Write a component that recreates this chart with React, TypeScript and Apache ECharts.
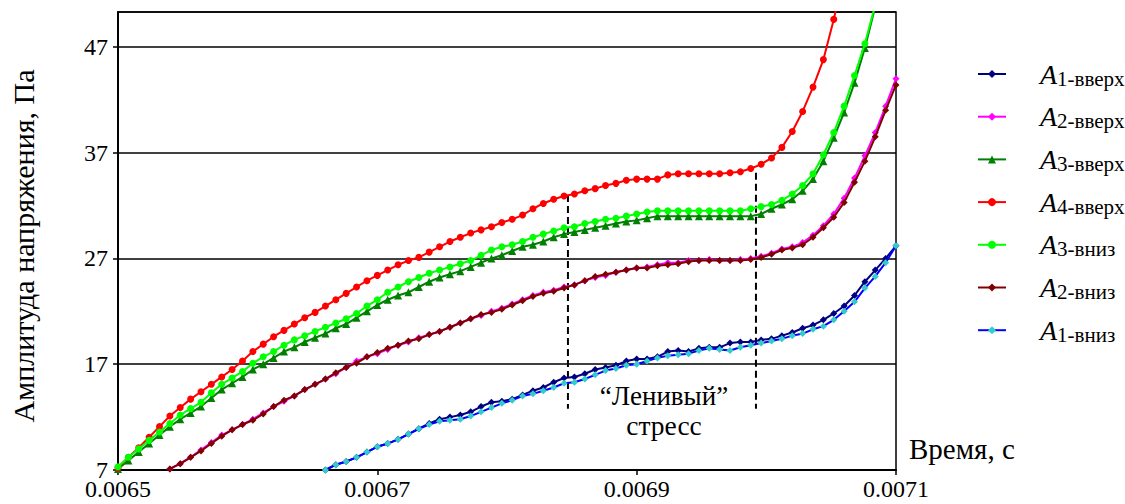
import React, { useEffect, useRef } from "react";
import * as echarts from "echarts";

// sample times, s
const times = [
  0.0065, 0.006508, 0.006516, 0.006524, 0.006532, 0.00654, 0.006548, 0.006556, 0.006564, 0.006572,
  0.00658, 0.006588, 0.006596, 0.006604, 0.006612, 0.00662, 0.006628, 0.006636, 0.006644, 0.006652,
  0.00666, 0.006668, 0.006676, 0.006684, 0.006692, 0.0067, 0.006708, 0.006716, 0.006724, 0.006732,
  0.00674, 0.006748, 0.006756, 0.006764, 0.006772, 0.00678, 0.006788, 0.006796, 0.006804, 0.006812,
  0.00682, 0.006828, 0.006836, 0.006844, 0.006852, 0.00686, 0.006868, 0.006876, 0.006884, 0.006892,
  0.0069, 0.006908, 0.006916, 0.006924, 0.006932, 0.00694, 0.006948, 0.006956, 0.006964, 0.006972,
  0.00698, 0.006988, 0.006996, 0.007004, 0.007012, 0.00702, 0.007028, 0.007036, 0.007044, 0.007052,
  0.00706, 0.007068, 0.007076, 0.007084, 0.007092, 0.0071,
];

const N = null;

const a1Up = [
  N, N, N, N, N, N, N, N, N, N,
  N, N, N, N, N, N, N, N, N, N,
  7.0, 7.5, 7.8, 8.2, 8.7, 9.2, 9.5, 9.9, 10.4, 10.9,
  11.4, 11.8, 12.0, 12.2, 12.5, 13.0, 13.4, 13.5, 13.7, 14.1,
  14.5, 14.8, 15.3, 15.7, 15.8, 16.1, 16.5, 16.7, 16.9, 17.3,
  17.5, 17.5, 17.7, 18.2, 18.3, 18.2, 18.5, 18.6, 18.6, 19.0,
  19.1, 19.1, 19.3, 19.4, 19.7, 20.0, 20.4, 20.7, 21.2, 21.8,
  22.5, 23.5, 24.8, 25.9, 27.0, 28.2,
];

const a2Up = [
  N, N, N, N, N, 7.1, 7.6, 8.2, 8.9, 9.6,
  10.3, 10.8, 11.3, 11.8, 12.4, 13.0, 13.5, 14.0, 14.6, 15.1,
  15.6, 16.1, 16.7, 17.3, 17.7, 18.0, 18.4, 18.8, 19.1, 19.5,
  19.8, 20.1, 20.5, 20.9, 21.3, 21.6, 22.0, 22.3, 22.7, 23.1,
  23.5, 23.8, 24.0, 24.3, 24.5, 24.9, 25.2, 25.4, 25.7, 25.9,
  26.1, 26.2, 26.4, 26.6, 26.6, 26.8, 26.8, 26.9, 26.8, 26.8,
  26.9, 27.0, 27.2, 27.5, 27.9, 28.1, 28.5, 29.2, 30.1, 31.2,
  32.7, 34.6, 36.7, 38.9, 41.4, 44.0,
];

const a3Up = [
  7.1, 7.9, 8.7, 9.5, 10.3, 11.1, 11.8, 12.4, 13.0, 13.8,
  14.6, 15.2, 15.8, 16.5, 17.0, 17.6, 18.2, 18.6, 19.1, 19.5,
  19.9, 20.4, 20.8, 21.4, 22.0, 22.6, 23.1, 23.5, 23.8, 24.3,
  24.8, 25.2, 25.5, 25.8, 26.2, 26.6, 27.0, 27.3, 27.7, 28.1,
  28.3, 28.6, 29.0, 29.3, 29.5, 29.7, 29.9, 30.1, 30.3, 30.5,
  30.6, 30.8, 31.0, 31.0, 31.0, 31.0, 31.0, 31.0, 31.0, 31.0,
  31.0, 31.0, 31.2, 31.7, 32.1, 32.6, 33.4, 34.5, 36.2, 38.4,
  40.8, 43.6, 46.9, 50.8, N, N,
];

const a4Up = [
  7.2, 8.2, 9.1, 10.1, 11.1, 12.1, 12.9, 13.7, 14.4, 15.1,
  15.8, 16.5, 17.3, 18.2, 18.9, 19.6, 20.2, 20.8, 21.4, 21.9,
  22.5, 23.1, 23.7, 24.3, 24.9, 25.4, 25.9, 26.4, 26.8, 27.1,
  27.6, 28.1, 28.6, 29.0, 29.4, 29.7, 30.0, 30.4, 30.7, 31.1,
  31.7, 32.2, 32.6, 32.9, 33.1, 33.4, 33.6, 33.9, 34.1, 34.4,
  34.5, 34.5, 34.5, 34.9, 35.0, 35.0, 35.0, 35.0, 35.0, 35.1,
  35.2, 35.5, 35.9, 36.5, 37.5, 39.0, 40.9, 43.2, 45.8, 49.6,
  54.0, N, N, N, N, N,
];

const a3Down = [
  7.3, 8.2, 9.0, 9.8, 10.6, 11.4, 12.2, 12.8, 13.4, 14.3,
  15.1, 15.7, 16.3, 17.1, 17.7, 18.2, 18.8, 19.3, 19.7, 20.1,
  20.5, 20.9, 21.3, 21.8, 22.5, 23.1, 23.8, 24.3, 24.8, 25.2,
  25.6, 25.9, 26.2, 26.5, 26.8, 27.3, 27.8, 28.1, 28.3, 28.6,
  29.0, 29.3, 29.6, 29.9, 30.0, 30.3, 30.5, 30.7, 30.8, 31.0,
  31.2, 31.4, 31.5, 31.5, 31.5, 31.5, 31.5, 31.5, 31.5, 31.5,
  31.5, 31.7, 31.9, 32.1, 32.5, 33.1, 33.9, 35.0, 36.8, 38.9,
  41.4, 44.3, 47.3, 51.0, N, N,
];

const a2Down = [
  N, N, N, N, N, 7.1, 7.6, 8.2, 8.8, 9.5,
  10.2, 10.8, 11.3, 11.7, 12.3, 13.0, 13.6, 14.0, 14.6, 15.1,
  15.6, 16.2, 16.7, 17.1, 17.7, 18.1, 18.5, 18.8, 19.2, 19.4,
  19.8, 20.1, 20.5, 20.9, 21.3, 21.7, 21.9, 22.2, 22.6, 23.0,
  23.4, 23.7, 23.9, 24.2, 24.5, 24.9, 25.3, 25.5, 25.7, 25.9,
  26.1, 26.1, 26.3, 26.4, 26.5, 26.7, 26.8, 26.8, 26.8, 26.8,
  26.8, 26.9, 27.1, 27.4, 27.8, 28.0, 28.3, 29.0, 29.9, 30.9,
  32.3, 34.2, 36.2, 38.5, 41.0, 43.4,
];

const a1Down = [
  N, N, N, N, N, N, N, N, N, N,
  N, N, N, N, N, N, N, N, N, N,
  7.0, 7.5, 7.8, 8.2, 8.7, 9.2, 9.5, 9.9, 10.4, 10.9,
  11.3, 11.6, 11.7, 11.8, 12.1, 12.5, 12.9, 13.3, 13.6, 14.0,
  14.2, 14.5, 14.8, 15.2, 15.3, 15.6, 16.0, 16.4, 16.6, 16.9,
  17.0, 17.3, 17.6, 17.8, 17.9, 18.0, 18.3, 18.5, 18.4, 18.3,
  18.6, 18.8, 19.0, 19.2, 19.4, 19.7, 19.9, 20.3, 20.6, 21.2,
  22.0, 22.9, 24.2, 25.3, 26.6, 28.2,
];

// "lazy stress" boundaries: [time, top value, bottom value]
const boundaries = [
  [0.006847, 33.0, 12.8],
  [0.006992, 35.1, 12.8],
];

const seriesNames = ["A1-вверх", "A2-вверх", "A3-вверх", "A4-вверх", "A3-вниз", "A2-вниз", "A1-вниз"];
const seriesValues = [a1Up, a2Up, a3Up, a4Up, a3Down, a2Down, a1Down];
const lineColors = ["#000080", "#ff00ff", "#007f00", "#ff0000", "#00ff00", "#800000", "#0000ff"];
const markerColors = ["#000080", "#ff00ff", "#007f00", "#ff0000", "#00ff00", "#800000", "#33cccc"];
const markerShapes = ["diamond", "diamond", "triangle", "circle", "circle", "diamond", "diamond"];

const yTicks = { min: 7, max: 50.3, interval: 10 };
const xTicks = { min: 0.0065, max: 0.0071, interval: 0.0002 };

const FONT = "Liberation Serif";

export default function App() {
  const ref = useRef<HTMLDivElement>(null);
  useEffect(() => {
    const chart = echarts.init(ref.current as HTMLDivElement, null, { renderer: "svg" });
    const series: any[] = seriesNames.map((name, k) => ({
      name,
      type: "line",
      data: times.map((t, i) => [t, seriesValues[k][i]]),
      symbol: markerShapes[k],
      symbolSize: markerShapes[k] === "triangle" ? 8 : 7,
      showSymbol: true,
      lineStyle: { color: lineColors[k], width: 2 },
      itemStyle: { color: markerColors[k] },
      clip: true,
      z: 3 + k,
    }));
    boundaries.forEach((b, j) => {
      series.push({
        name: "boundary" + j,
        type: "line",
        data: [
          [b[0], b[1]],
          [b[0], b[2]],
        ],
        symbol: "none",
        silent: true,
        lineStyle: { color: "#000", width: 2, type: [7, 4] },
        z: 2,
      });
    });

    const txt = (text: string, x: number, y: number, size: number, align: string, rotation = 0) => ({
      type: "text",
      x,
      y,
      rotation,
      style: { text, fontSize: size, fontFamily: FONT, fill: "#000", align, verticalAlign: "middle" },
    });

    chart.setOption({
      animation: false,
      backgroundColor: "#fff",
      grid: {
        left: 118,
        right: 229,
        top: 12,
        bottom: 34,
        show: true,
        borderColor: "#000",
        borderWidth: 1.5,
      },
      xAxis: {
        type: "value",
        min: xTicks.min,
        max: xTicks.max,
        interval: xTicks.interval,
        axisLine: { lineStyle: { color: "#000", width: 2 } },
        axisTick: { show: true, length: 5, lineStyle: { color: "#000", width: 1.5 } },
        axisLabel: {
          color: "#000",
          fontSize: 24,
          fontFamily: FONT,
          margin: 7,
          formatter: (v: number) => v.toFixed(4),
        },
        splitLine: { show: false },
      },
      yAxis: {
        type: "value",
        min: yTicks.min,
        max: yTicks.max,
        interval: yTicks.interval,
        axisLine: { show: true, lineStyle: { color: "#000", width: 2 } },
        axisTick: { show: true, length: 5, lineStyle: { color: "#000", width: 1.5 } },
        axisLabel: {
          color: "#000",
          fontSize: 24,
          fontFamily: FONT,
          margin: 10,
          showMaxLabel: false,
        },
        splitLine: { show: true, lineStyle: { color: "#000", width: 1.5 } },
      },
      legend: {
        orient: "vertical",
        left: 972,
        top: 55,
        itemWidth: 28,
        itemHeight: 10,
        itemGap: 13.7,
        selectedMode: false,
        data: seriesNames,
        formatter: (n: string) => `{sp|}{a|A}{s|${n.slice(1)}}`,
        textStyle: {
          fontFamily: FONT,
          rich: {
            sp: { width: 29, lineHeight: 30 },
            a: {
              fontSize: 28,
              fontStyle: "italic",
              fontFamily: FONT,
              color: "#000",
              lineHeight: 30,
              verticalAlign: "middle",
            },
            s: {
              fontSize: 21,
              fontFamily: FONT,
              color: "#000",
              lineHeight: 30,
              verticalAlign: "bottom",
            },
          },
        },
      },
      graphic: [
        txt("Амплитуда напряжения, Па", 23, 246, 30, "center", Math.PI / 2),
        txt("Время, с", 909, 449, 29, "left"),
        txt("“Ленивый”", 664, 396, 27, "center"),
        txt("стресс", 664, 425, 27.5, "center"),
      ],
      series,
    });
    return () => chart.dispose();
  }, []);
  return (
    <div
      ref={ref}
      style={{ position: "fixed", left: 0, top: 0, width: 1125, height: 504, background: "#fff" }}
    />
  );
}
